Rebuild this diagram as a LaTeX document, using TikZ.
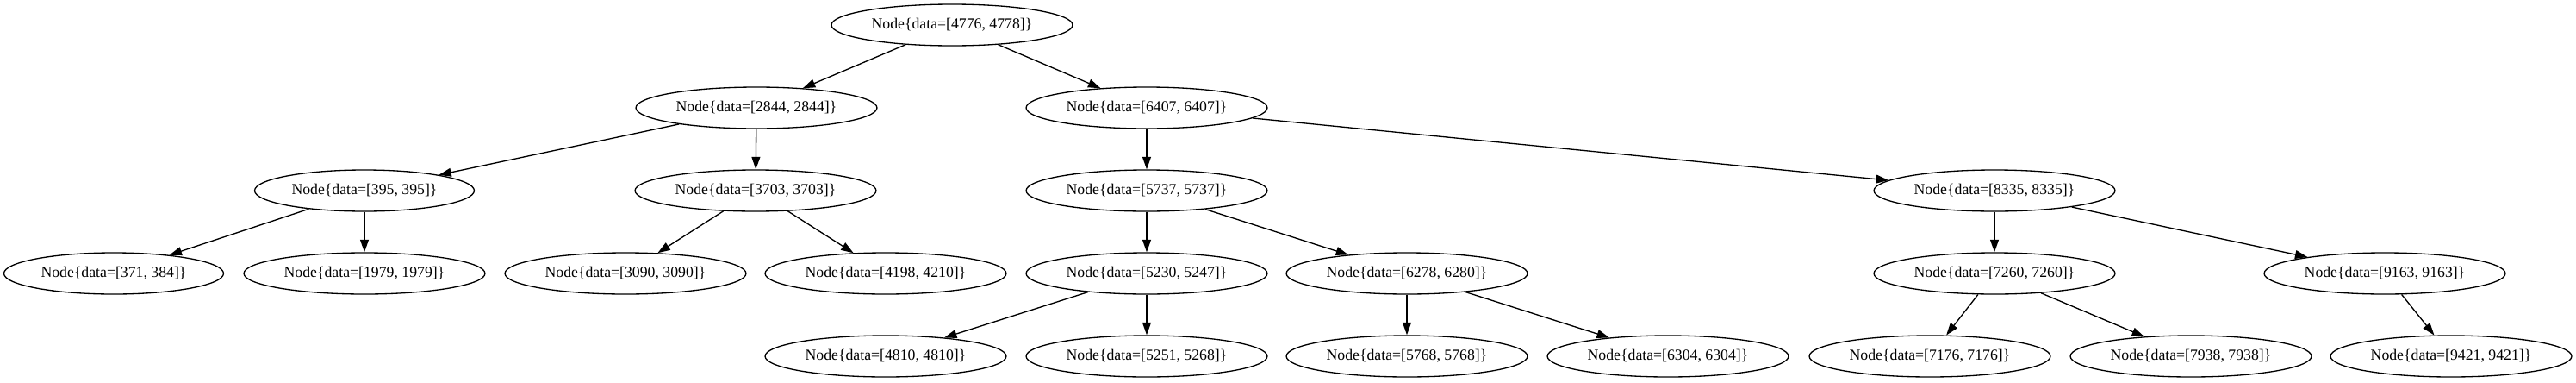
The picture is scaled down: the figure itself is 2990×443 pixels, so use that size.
\documentclass[tikz,border=0pt]{standalone}
\usepackage{fontspec}
\setmainfont{Liberation Serif}
\usetikzlibrary{arrows.meta,shapes.geometric}
\tikzset{
  tnode/.style={draw, ellipse, line width=0.75pt, inner sep=0pt,
    minimum width=5.6cm, minimum height=0.96cm,
    font=\fontsize{10.1pt}{12pt}\selectfont},
  narrow/.style={minimum width=5.1cm},
  edge/.style={line width=0.75pt, -{Triangle[length=8.2pt,width=5.6pt]}}
}
\newcommand{\lbl}[1]{\makebox[0pt]{Node\{data=[#1]\}}}
\begin{document}
\begin{tikzpicture}[x=0.02cm, y=-0.02cm]
\useasboundingbox (0,0) rectangle (2990,443);
\node[tnode] (n4776) at (1105,29) {\lbl{4776, 4778}};
\node[tnode] (n2844) at (878,125) {\lbl{2844, 2844}};
\node[tnode] (n6407) at (1331,125) {\lbl{6407, 6407}};
\node[tnode,narrow] (n395) at (423,221) {\lbl{395, 395}};
\node[tnode] (n3703) at (877,221) {\lbl{3703, 3703}};
\node[tnode] (n5737) at (1331,221) {\lbl{5737, 5737}};
\node[tnode] (n8335) at (2315,221) {\lbl{8335, 8335}};
\node[tnode,narrow] (n371) at (132,317) {\lbl{371, 384}};
\node[tnode] (n1979) at (423,317) {\lbl{1979, 1979}};
\node[tnode] (n3090) at (726,317) {\lbl{3090, 3090}};
\node[tnode] (n4198) at (1028,317) {\lbl{4198, 4210}};
\node[tnode] (n5230) at (1331,317) {\lbl{5230, 5247}};
\node[tnode] (n6278) at (1633,317) {\lbl{6278, 6280}};
\node[tnode] (n7260) at (2315,317) {\lbl{7260, 7260}};
\node[tnode] (n9163) at (2768,317) {\lbl{9163, 9163}};
\node[tnode] (n4810) at (1028,413) {\lbl{4810, 4810}};
\node[tnode] (n5251) at (1331,413) {\lbl{5251, 5268}};
\node[tnode] (n5768) at (1633,413) {\lbl{5768, 5768}};
\node[tnode] (n6304) at (1936,413) {\lbl{6304, 6304}};
\node[tnode] (n7176) at (2240,413) {\lbl{7176, 7176}};
\node[tnode] (n7938) at (2543,413) {\lbl{7938, 7938}};
\node[tnode] (n9421) at (2845,413) {\lbl{9421, 9421}};
\draw[edge] (n4776) -- (n2844);
\draw[edge] (n4776) -- (n6407);
\draw[edge] (n2844) -- (n395);
\draw[edge] (n2844) -- (n3703);
\draw[edge] (n395) -- (n371);
\draw[edge] (n395) -- (n1979);
\draw[edge] (n3703) -- (n3090);
\draw[edge] (n3703) -- (n4198);
\draw[edge] (n6407) -- (n5737);
\draw[edge] (n6407) -- (n8335);
\draw[edge] (n5737) -- (n5230);
\draw[edge] (n5737) -- (n6278);
\draw[edge] (n5230) -- (n4810);
\draw[edge] (n5230) -- (n5251);
\draw[edge] (n6278) -- (n5768);
\draw[edge] (n6278) -- (n6304);
\draw[edge] (n8335) -- (n7260);
\draw[edge] (n8335) -- (n9163);
\draw[edge] (n7260) -- (n7176);
\draw[edge] (n7260) -- (n7938);
\draw[edge] (n9163) -- (n9421);
\end{tikzpicture}
\end{document}
